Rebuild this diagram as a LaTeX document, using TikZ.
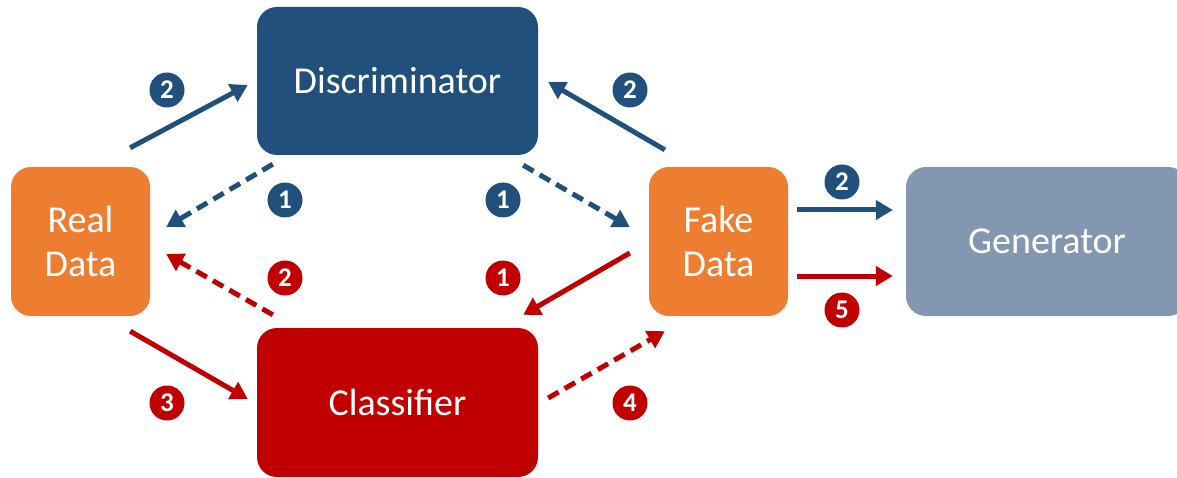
\documentclass[tikz,border=0pt]{standalone}
\usepackage{fontspec}
\setmainfont{Carlito}
\usetikzlibrary{arrows.meta}
\definecolor{discblue}{RGB}{33,80,125}
\definecolor{clfred}{RGB}{192,0,0}
\definecolor{dataorange}{RGB}{237,125,49}
\definecolor{gengray}{RGB}{132,151,176}
\tikzset{
    box/.style={rounded corners=20pt, text=white, align=center,
        font=\fontsize{38}{44}\selectfont, inner sep=0pt},
    flow/.style={line width=5pt, -{Triangle[length=17pt,width=19pt]}},
    dashflow/.style={flow, dash pattern=on 12pt off 7pt},
    badge/.style={circle, minimum size=35pt, inner sep=0pt, text=white,
        font=\fontsize{27}{27}\selectfont\bfseries}
}
\begin{document}
\begin{tikzpicture}[x=1pt,y=-1pt]
    \useasboundingbox (0,0) rectangle (1177,478);
    \begin{scope}
        \clip (0,0) rectangle (1177,478);
        \node[box, fill=gengray, minimum width=282pt, minimum height=149pt] (gen) at (1047,241.5) {Generator};
    \end{scope}
    \node[box, fill=discblue, minimum width=281pt, minimum height=148pt] (disc) at (397.5,81) {Discriminator};
    \node[box, fill=clfred, minimum width=281pt, minimum height=149pt] (clf) at (397.5,402.5) {Classifier};
    \node[box, fill=dataorange, minimum width=139pt, minimum height=149pt] (real) at (80.5,241.5) {Real\\Data};
    \node[box, fill=dataorange, minimum width=139pt, minimum height=149pt] (fake) at (718.5,241.5) {Fake\\Data};

    % discriminator arrows
    \draw[flow, discblue] ([shift={(-20,-19)}]real.north east) -- ([shift={(-9,4)}]disc.west);
    \draw[flow, discblue] ([shift={(16,-17)}]fake.north west) -- ([shift={(10,1)}]disc.east);
    \draw[dashflow, discblue] ([shift={(16,9)}]disc.south west) -- ([shift={(16,-14.5)}]real.east);
    \draw[dashflow, discblue] ([shift={(-15,10)}]disc.south east) -- ([shift={(-19,-14.5)}]fake.west);

    % classifier arrows
    \draw[dashflow, clfred] ([shift={(16,-13)}]clf.north west) -- ([shift={(16,12.5)}]real.east);
    \draw[flow, clfred] ([shift={(-19,11.5)}]fake.west) -- ([shift={(-15,-13)}]clf.north east);
    \draw[flow, clfred] ([shift={(-20,15)}]real.south east) -- ([shift={(-9,-3.5)}]clf.west);
    \draw[dashflow, clfred] ([shift={(10,-4.5)}]clf.east) -- ([shift={(16,15)}]fake.south west);

    % generator arrows
    \draw[flow, discblue] ([shift={(9,-31.5)}]fake.east) -- ([shift={(-13,-31.5)}]gen.west);
    \draw[flow, clfred] ([shift={(9,34.5)}]fake.east) -- ([shift={(-13,34.5)}]gen.west);

    % step numbers
    \node[badge, fill=discblue] (n-rd) at (167,90) {2};
    \node[badge, fill=discblue] (n-fd) at (630,90) {2};
    \node[badge, fill=discblue] (n-dr) at (285,200) {1};
    \node[badge, fill=discblue] (n-df) at (503,200) {1};
    \node[badge, fill=clfred] (n-cr) at (285,278) {2};
    \node[badge, fill=clfred] (n-fc) at (503,278) {1};
    \node[badge, fill=clfred] (n-rc) at (167,403) {3};
    \node[badge, fill=clfred] (n-cf) at (630,403) {4};
    \node[badge, fill=discblue] (n-gb) at (842,182) {2};
    \node[badge, fill=clfred] (n-gr) at (842,310) {5};
\end{tikzpicture}
\end{document}
